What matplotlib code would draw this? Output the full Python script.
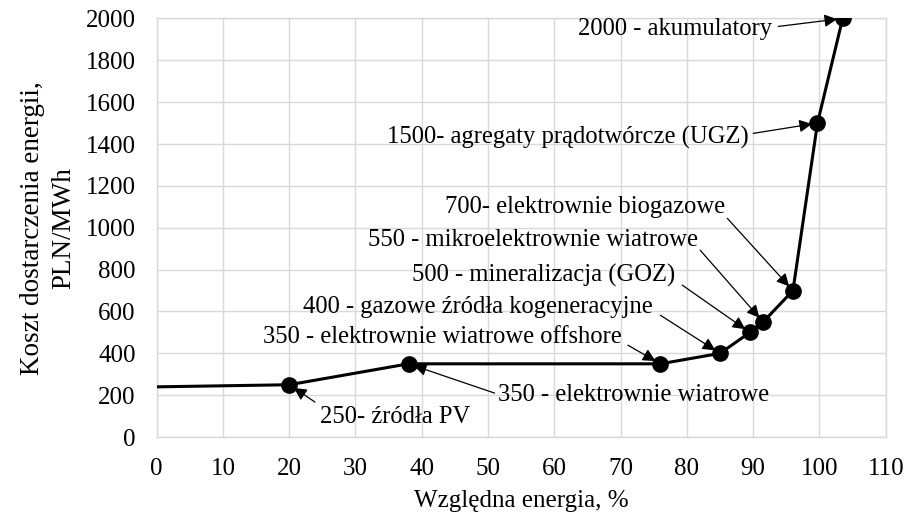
import matplotlib
matplotlib.use("Agg")
import matplotlib.pyplot as plt

# Data
energy = [0, 20, 38, 76, 85, 89.5, 91.5, 96, 99.7, 103.5]
cost = [240, 250, 350, 350, 400, 500, 550, 700, 1500, 2000]
marker_idx = [1, 2, 3, 4, 5, 6, 7, 8, 9]

labels = [
    "250- źródła PV",
    "350 - elektrownie wiatrowe",
    "350 - elektrownie wiatrowe offshore",
    "400 - gazowe źródła kogeneracyjne",
    "500 - mineralizacja (GOZ)",
    "550 - mikroelektrownie wiatrowe",
    "700- elektrownie biogazowe",
    "1500- agregaty prądotwórcze (UGZ)",
    "2000 - akumulatory",
]
# text anchor positions (data coords) and alignment
label_pos = [
    (24.6, 95, "left"),
    (51.5, 200, "left"),
    (70.2, 477, "right"),
    (74.8, 621, "right"),
    (78.2, 773, "right"),
    (81.6, 940, "right"),
    (85.8, 1098, "right"),
    (89.3, 1432, "right"),
    (92.9, 1952, "right"),
]
arrow_start = [
    (23.9, 167),
    (51.0, 210),
    (71.1, 439),
    (76.0, 582),
    (79.3, 726),
    (82.0, 893),
    (86.1, 1045),
    (90.0, 1451),
    (93.8, 1962),
]

plt.rcParams['font.family'] = ['Liberation Serif', 'DejaVu Serif']

fig = plt.figure(figsize=(9.08, 5.13), dpi=100)
ax = fig.add_axes([0.1725, 0.148, 0.803, 0.816])

ax.plot(energy, cost, color='black', lw=2.2, zorder=3)
ax.plot([energy[i] for i in marker_idx], [cost[i] for i in marker_idx],
        'o', color='black', ms=11, zorder=4)

fs = 17.7
for i, (lab, (tx, ty, ha), (sx, sy)) in enumerate(zip(labels, label_pos, arrow_start)):
    pi = marker_idx[i]
    ax.text(tx, ty, lab, ha=ha, va='center', fontsize=fs, zorder=5)
    ax.annotate("", xy=(energy[pi], cost[pi]), xytext=(sx, sy),
                arrowprops=dict(arrowstyle='-|>', color='black', lw=0.9,
                                mutation_scale=19, shrinkA=0, shrinkB=4),
                zorder=5)

ax.set_xlim(0, 110)
ax.set_ylim(0, 2000)
ax.set_xticks(range(0, 111, 10))
ax.set_yticks(range(0, 2001, 200))
ax.grid(True, color='#d9d9d9', lw=1)
ax.set_axisbelow(True)
for s in ax.spines.values():
    s.set_color('#d9d9d9')
    s.set_linewidth(1)
ax.tick_params(length=0, labelsize=18)
ax.tick_params(axis='y', pad=15)
ax.tick_params(axis='x', pad=15)
ax.set_xlabel("Względna energia, %", fontsize=18, labelpad=7)
ax.set_ylabel("Koszt dostarczenia energii,\nPLN/MWh", fontsize=19.5, labelpad=7,
              linespacing=1.3)

fig.savefig("out.png", dpi=100)
